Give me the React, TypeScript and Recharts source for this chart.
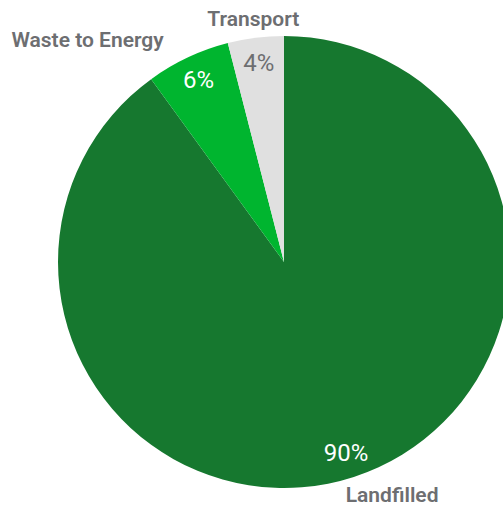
import { PieChart, Pie, Cell } from 'recharts';

const categories = ['Landfilled', 'Waste to Energy', 'Transport'];
const shares = [90, 6, 4];
const colors = ['#16782f', '#00b52f', '#e0e0e0'];
const pctColors = ['#ffffff', '#ffffff', '#6d6e71'];

const data = categories.map((name, i) => ({ name, value: shares[i] }));

const RAD = Math.PI / 180;
const FONT = 'Roboto, "DejaVu Sans", sans-serif';

function renderLabel(props: any) {
  const { cx, cy, midAngle, outerRadius, index, name, value } = props;
  const cos = Math.cos(-midAngle * RAD);
  const sin = Math.sin(-midAngle * RAD);
  // percentage inside the slice
  const ri = outerRadius - 25;
  const px = cx + ri * cos;
  const py = cy + ri * sin;
  // name outside the slice
  const ro = outerRadius + 19;
  let nx = cx + ro * cos;
  const ny = cy + ro * sin;
  let anchor: 'start' | 'end' | 'middle' = 'middle';
  if (cos < -0.3) {
    anchor = 'end';
    nx -= 16;
  } else if (cos > 0.3) {
    anchor = 'start';
    nx -= 14;
  }
  return (
    <g>
      <text x={px} y={py} fill={pctColors[index]} fontSize={24} fontFamily={FONT} textAnchor="middle" dominantBaseline="central">
        {value}%
      </text>
      <text x={nx} y={ny} fill="#6d6e71" fontSize={21} fontWeight={600} fontFamily={FONT} textAnchor={anchor} dominantBaseline="central">
        {name}
      </text>
    </g>
  );
}

export default function App() {
  return (
    <div style={{ position: 'absolute', left: 0, top: 0, width: 503, height: 510, background: '#fff', overflow: 'hidden' }}>
      <PieChart width={503} height={510} margin={{ top: 0, right: 0, bottom: 0, left: 0 }} style={{ overflow: 'visible' }}>
        <Pie
          data={data}
          dataKey="value"
          nameKey="name"
          cx={284}
          cy={262}
          outerRadius={226}
          startAngle={90}
          endAngle={-270}
          stroke="none"
          labelLine={false}
          label={renderLabel}
          isAnimationActive={false}
        >
          {data.map((d, i) => (
            <Cell key={d.name} fill={colors[i]} />
          ))}
        </Pie>
      </PieChart>
    </div>
  );
}
